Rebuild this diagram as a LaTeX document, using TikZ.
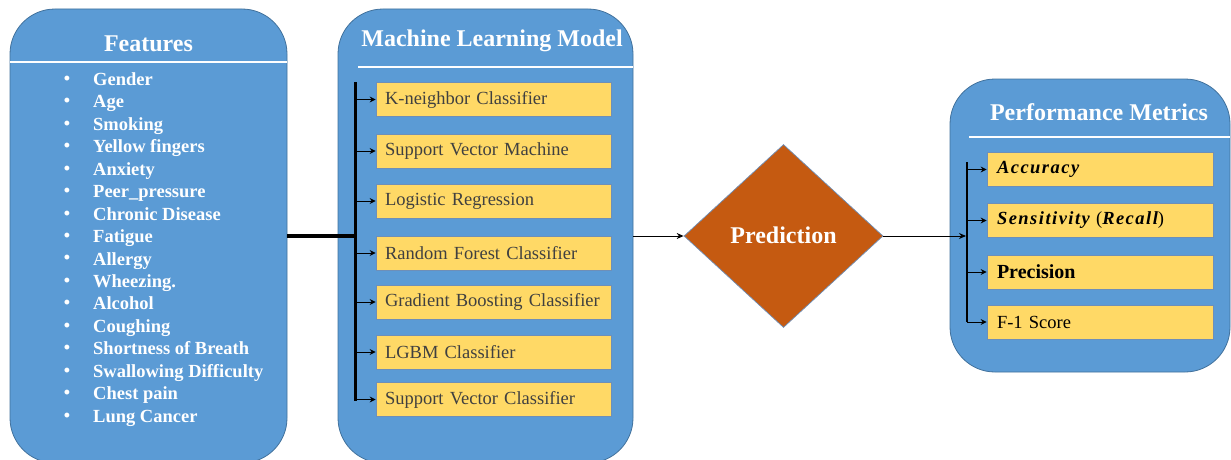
\documentclass[tikz,border=0pt]{standalone}
\usepackage{fontspec}
\setmainfont{Liberation Serif}
\newfontfamily\bif{Liberation Serif}[LetterSpace=8]
\usetikzlibrary{shapes.geometric,arrows.meta}
\definecolor{pblue}{HTML}{5B9BD5}
\definecolor{pedge}{HTML}{41719C}
\definecolor{yedge}{HTML}{6E8FB8}
\definecolor{pyel}{HTML}{FFD966}
\definecolor{porange}{HTML}{C55A11}
\definecolor{ptext}{HTML}{404040}
\tikzset{
  panel/.style={draw=pedge, line width=0.8pt, fill=pblue, rounded corners=45pt, inner sep=0pt},
  ttl/.style={text=white, font=\fontsize{24}{28}\selectfont\bfseries, inner sep=0pt},
  hline/.style={draw=white, line width=2pt},
  bul/.style={text=white, font=\fontsize{18}{20}\selectfont\bfseries, inner sep=0pt},
  item/.style={text=white, font=\fontsize{18.5}{22}\selectfont\bfseries, inner sep=0pt, anchor=west, text height=12.5pt, text depth=4pt},
  ybox/.style={draw=yedge, line width=0.7pt, fill=pyel, minimum height=34pt, inner ysep=0pt, align=left, font=\fontsize{18.5}{22}\selectfont},
  mlbox/.style={ybox, minimum width=235pt, text width=217pt, inner xsep=9pt, text=ptext},
  mbox/.style={ybox, minimum width=226pt, text width=206pt, inner xsep=10pt, text=black},
  bar/.style={draw=black, line width=3pt},
  br/.style={draw=black, line width=1pt, -{Stealth[length=6pt,width=6pt]}},
  conn/.style={draw=black, line width=1pt, -{Stealth[length=7pt,width=6pt]}},
  pred/.style={diamond, aspect=1.087, minimum width=199pt, minimum height=183pt, fill=porange, draw=yedge, line width=0.7pt, inner sep=0pt, text=white, font=\fontsize{24}{28}\selectfont\bfseries}
}
\begin{document}
\begin{tikzpicture}[x=1pt,y=-1pt]
\useasboundingbox (0,0) rectangle (1231,460);
% panels
\node[panel, minimum width=277pt, minimum height=454pt] (feat) at (148.5,236) {};
\node[panel, minimum width=295pt, minimum height=454pt] (ml) at (485.5,236) {};
\node[panel, minimum width=280pt, minimum height=293pt] (met) at (1090,225.5) {};
% titles
\node[ttl] (featT) at (148.5,44) {Features};
\node[ttl] (mlT) at (492,41) {Machine Learning Model};
\node[ttl] (metT) at (1099,112) {Performance Metrics};
\draw[hline] (10,62) -- (287,62);
\draw[hline] (358,67) -- (633,67);
\draw[hline] (969,137) -- (1230,137);
% feature list
\foreach \t [count=\i] in {Gender,Age,Smoking,Yellow fingers,Anxiety,Peer\_pressure,Chronic Disease,Fatigue,Allergy,Wheezing.,Alcohol,Coughing,Shortness of Breath,Swallowing Difficulty,Chest pain,Lung Cancer}{
  \node[bul] (b\i) at (67,{80+22.47*(\i-1)}) {•};
  \node[item] (it\i) at (93,{81+22.47*(\i-1)}) {\t};
}
% ML models
\node[mlbox] (m1) at (493.5,99.5) {K-neighbor Classifier};
\node[mlbox] (m2) at (493.5,151) {Support Vector Machine};
\node[mlbox] (m3) at (493.5,201) {Logistic Regression};
\node[mlbox] (m4) at (493.5,253) {Random Forest Classifier};
\node[mlbox] (m5) at (493.5,302) {Gradient Boosting Classifier};
\node[mlbox] (m6) at (493.5,352) {LGBM Classifier};
\node[mlbox] (m7) at (493.5,399.5) {Support Vector Classifier};
\coordinate (mlTop) at (355,82);
\coordinate (mlBot) at (355,401);
\coordinate (mlJoin) at (355,236);
\draw[bar] (mlTop) -- (mlBot);
\foreach \i in {1,...,7}{ \draw[br] (mlTop |- m\i.west) -- (m\i.west); }
\draw[draw=black, line width=3.5pt] (feat.east |- mlJoin) -- (mlJoin);
% prediction
\node[pred] (p) at (783.5,236) {\raisebox{2pt}{Prediction}};
\draw[conn] (ml.east |- p.west) -- (p.west);
% metrics
\node[mbox] (k1) at (1100,169.5) {{\bif\bfseries\itshape Accuracy}};
\node[mbox] (k2) at (1100,220.5) {{\bif\bfseries\itshape Sensitivity} ({\bif\bfseries\itshape Recall})};
\node[mbox, font=\fontsize{20}{22}\selectfont\bfseries] (k3) at (1100,272) {Precision};
\node[mbox] (k4) at (1100,322) {F-1 Score};
\coordinate (kTop) at (967,162);
\coordinate (kBot) at (967,322);
\coordinate (kJoin) at (966,236);
\draw[draw=black, line width=2.5pt] (kTop) -- (kBot);
\foreach \i in {1,...,4}{ \draw[br] (kTop |- k\i.west) -- (k\i.west); }
\draw[conn] (p.east) -- (kJoin);
\end{tikzpicture}
\end{document}
